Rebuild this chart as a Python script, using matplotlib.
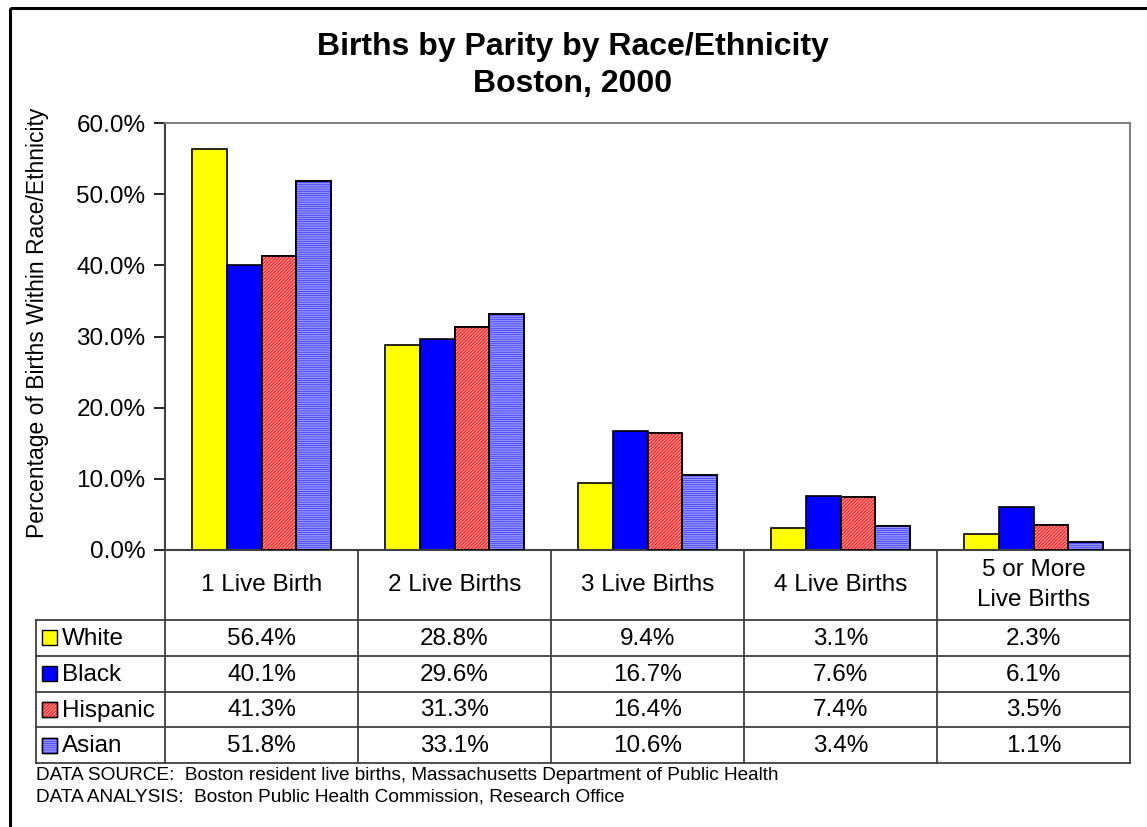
import matplotlib.pyplot as plt
from matplotlib.patches import Rectangle

plt.rcParams['font.family'] = ['Liberation Sans', 'DejaVu Sans']
plt.rcParams['hatch.linewidth'] = 1.0

# data
categorias = ['1 Live Birth', '2 Live Births', '3 Live Births', '4 Live Births', '5 or More\nLive Births']
grupos = ['White', 'Black', 'Hispanic', 'Asian']
white = [56.4, 28.8, 9.4, 3.1, 2.3]
black = [40.1, 29.6, 16.7, 7.6, 6.1]
hispanic = [41.3, 31.3, 16.4, 7.4, 3.5]
asian = [51.8, 33.1, 10.6, 3.4, 1.1]
y_ticks = [0, 10, 20, 30, 40, 50, 60]

series = [white, black, hispanic, asian]
# estilo: (relleno, color trama, trama)
estilos = [
    ('#FFFF00', None, None),
    ('#0000FF', None, None),
    ('#FFB0B0', '#FF2020', '/' * 10),
    ('#E4E4FF', '#5050FF', '-' * 9),
]

W, H = 1147, 827
fig = plt.figure(figsize=(W / 100, H / 100), dpi=100)

# capa en pixeles para tabla, bordes y textos
capa = fig.add_axes([0, 0, 1, 1])
capa.set_xlim(0, W)
capa.set_ylim(H, 0)
capa.axis('off')

# borde exterior
capa.add_patch(Rectangle((10, 8), W + 20, H + 20, fill=False, edgecolor='black', lw=2.2))

# eje de barras
x0, x1, ytop, ybot = 165, 1130, 123, 550
ax = fig.add_axes([x0 / W, 1 - ybot / H, (x1 - x0) / W, (ybot - ytop) / H])
ax.set_xlim(-0.5, len(categorias) - 0.5)
ax.set_ylim(0, 60)

ancho = 0.181
for i, (vals, (fc, hc, hatch)) in enumerate(zip(series, estilos)):
    pos = [c + (i - 1.5) * ancho for c in range(len(categorias))]
    ax.bar(pos, vals, width=ancho, color=fc, edgecolor='black', linewidth=1.2, zorder=2)
    if hatch:
        ax.bar(pos, vals, width=ancho, color='none', edgecolor=hc, hatch=hatch, linewidth=0, zorder=3)
        ax.bar(pos, vals, width=ancho, color='none', edgecolor='black', linewidth=1.2, zorder=4)

ax.set_yticks(y_ticks)
ax.set_yticklabels([f'{t:.1f}%' for t in y_ticks], fontsize=17.5)
ax.tick_params(axis='y', direction='out', length=8, width=1.2, pad=6, colors='black')
ax.set_xticks([])
for s in ['top', 'right']:
    ax.spines[s].set_color('#808080')
    ax.spines[s].set_linewidth(1.5)
ax.spines['left'].set_color('#404040')
ax.spines['left'].set_linewidth(1.5)
ax.spines['bottom'].set_color('#404040')
ax.spines['bottom'].set_linewidth(1.5)
ax.patch.set_alpha(0)

# titulo y etiqueta y
capa.text(573, 47, 'Births by Parity by Race/Ethnicity', ha='center', va='center',
          fontsize=23, fontweight='bold')
capa.text(573, 84, 'Boston, 2000', ha='center', va='center', fontsize=23, fontweight='bold')
capa.text(38, 323, 'Percentage of Births Within Race/Ethnicity', rotation=90,
          ha='center', va='center', fontsize=16.5)

# tabla de datos
col_w = (x1 - x0) / len(categorias)
fila_top, fila_h = 620, 35.8
tabla_izq = 36
fondo = fila_top + fila_h * len(grupos)
lc = '#404040'
# cabecera
capa.plot([x0, x0], [ybot, fondo], color=lc, lw=1.3)
for k in range(1, len(categorias) + 1):
    xx = x0 + k * col_w
    capa.plot([xx, xx], [ybot, fondo], color=lc, lw=1.3)
capa.plot([tabla_izq, tabla_izq], [fila_top, fondo], color=lc, lw=1.3)
for r in range(len(grupos) + 1):
    yy = fila_top + r * fila_h
    capa.plot([tabla_izq, x1], [yy, yy], color=lc, lw=1.3)

for k, cat in enumerate(categorias):
    cx = x0 + (k + 0.5) * col_w
    capa.text(cx, 585, cat, ha='center', va='center', fontsize=17.5, linespacing=1.5)

for r, (nombre, vals, (fc, hc, hatch)) in enumerate(zip(grupos, series, estilos)):
    cy = fila_top + (r + 0.5) * fila_h
    capa.add_patch(Rectangle((42, cy - 7.5), 15, 15, facecolor=fc, edgecolor='black', lw=1))
    if hatch:
        capa.add_patch(Rectangle((42, cy - 7.5), 15, 15, facecolor='none', edgecolor=hc,
                                 hatch=hatch, lw=0))
        capa.add_patch(Rectangle((42, cy - 7.5), 15, 15, facecolor='none', edgecolor='black', lw=1))
    capa.text(62, cy + 1, nombre, ha='left', va='center', fontsize=17.5)
    for k, v in enumerate(vals):
        cx = x0 + (k + 0.5) * col_w
        capa.text(cx, cy + 1, f'{v:.1f}%', ha='center', va='center', fontsize=17.5)

# notas
capa.text(36, 775, 'DATA SOURCE:  Boston resident live births, Massachusetts Department of Public Health',
          ha='left', va='center', fontsize=13.7)
capa.text(36, 797, 'DATA ANALYSIS:  Boston Public Health Commission, Research Office',
          ha='left', va='center', fontsize=13.7)

fig.savefig('out.png', dpi=100)
